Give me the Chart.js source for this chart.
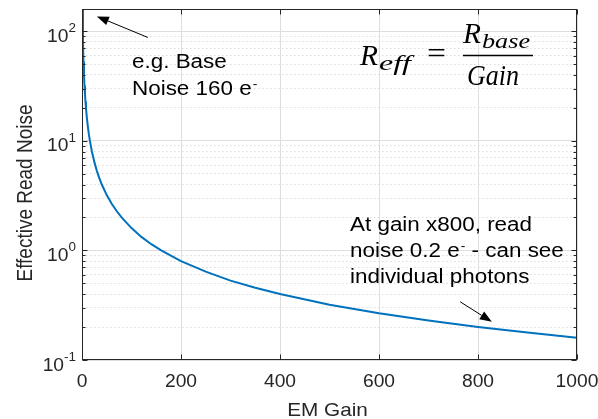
<!DOCTYPE html>
<html>
<head>
<meta charset="utf-8">
<title>Effective Read Noise vs EM Gain</title>
<script src="https://cdn.jsdelivr.net/npm/chart.js@4.4.0/dist/chart.umd.min.js"></script>
<style>
  html, body { margin: 0; padding: 0; background: #fff; }
  #wrap { width: 598px; height: 419px; }
</style>
</head>
<body>
<div id="wrap"><canvas id="chart" width="598" height="419"></canvas></div>
<script>
// EM gain and effective read noise (e-)
const gain = [1, 2, 3, 4, 5, 6, 7, 8, 10, 12, 14, 16, 20, 25, 30, 35, 40, 50, 60, 70, 80,
  100, 120, 140, 160, 200, 250, 300, 350, 400, 500, 600, 700, 800, 900, 1000];
const readNoise = [160, 80, 53, 40, 32, 26.7, 22.9, 20, 16, 13.3, 11.4, 10, 8, 6.4, 5.33, 4.57, 4,
  3.2, 2.67, 2.29, 2, 1.6, 1.33, 1.14, 1, 0.8, 0.64, 0.53, 0.457, 0.4, 0.32, 0.267, 0.229, 0.2,
  0.178, 0.16];

// Axis ticks
const xTickValues = [0, 200, 400, 600, 800, 1000];
const yDecades = [0.1, 1, 10, 100];
const yExponents = ['-1', '0', '1', '2'];

// Arrow end points in data units [fromGain, fromNoise, toGain, toNoise]
const arrowBase = [133, 88, 30, 137];
const arrowGain = [764, 0.34, 828, 0.223];

const SANS = '"Liberation Sans", Arial, Helvetica, sans-serif';
const SERIF = '"Liberation Serif", "Times New Roman", serif';
const AXIS_COLOR = '#262626';

function isDecade(v) {
    const l = Math.log10(v);
    return Math.abs(l - Math.round(l)) < 1e-6;
}

// Minor + major ticks for the log axis
function logTicks() {
    const out = [];
    for (let d = 0; d < yDecades.length - 1; d++) {
        for (let k = 1; k <= 9; k++) out.push({ value: yDecades[d] * k });
    }
    out.push({ value: yDecades[yDecades.length - 1] });
    return out;
}

// Text drawn with a horizontal stretch factor
function drawText(ctx, str, x, y, font, sx, align) {
    ctx.save();
    ctx.font = font;
    ctx.textAlign = 'left';
    ctx.textBaseline = 'alphabetic';
    const w = ctx.measureText(str).width * sx;
    let left = x;
    if (align === 'center') left = x - w / 2;
    if (align === 'right') left = x - w;
    ctx.translate(left, y);
    ctx.scale(sx, 1);
    ctx.fillText(str, 0, 0);
    ctx.restore();
    return w;
}

// Text squeezed/stretched to a given width
function drawFit(ctx, str, x, y, font, width) {
    ctx.save();
    ctx.font = font;
    const sx = width / ctx.measureText(str).width;
    ctx.restore();
    return drawText(ctx, str, x, y, font, sx, 'left');
}

function drawArrow(ctx, x1, y1, x2, y2) {
    const ang = Math.atan2(y2 - y1, x2 - x1);
    const headLen = 12, headW = 4.5;
    const bx = x2 - headLen * Math.cos(ang);
    const by = y2 - headLen * Math.sin(ang);
    ctx.beginPath();
    ctx.moveTo(x1, y1);
    ctx.lineTo(bx, by);
    ctx.stroke();
    ctx.beginPath();
    ctx.moveTo(x2, y2);
    ctx.lineTo(bx + headW * Math.sin(ang), by - headW * Math.cos(ang));
    ctx.lineTo(bx - headW * Math.sin(ang), by + headW * Math.cos(ang));
    ctx.closePath();
    ctx.fill();
}

const axesPlugin = {
    id: 'matlabAxes',
    afterDraw(chart) {
        const { ctx, chartArea, scales } = chart;
        const { left, right, top, bottom } = chartArea;
        const xs = scales.x, ys = scales.y;
        const L = Math.round(left) + 0.5, R = Math.round(right) - 0.5;
        const T = Math.round(top) + 0.5, B = Math.round(bottom) - 0.5;

        ctx.save();
        ctx.strokeStyle = AXIS_COLOR;
        ctx.lineWidth = 1;

        // Box
        ctx.strokeRect(L, T, R - L, B - T);

        // Inward tick marks
        ctx.beginPath();
        xTickValues.forEach(v => {
            const px = Math.round(xs.getPixelForValue(v)) + 0.5;
            ctx.moveTo(px, B); ctx.lineTo(px, B - 5);
            ctx.moveTo(px, T); ctx.lineTo(px, T + 5);
        });
        ys.ticks.forEach(t => {
            const py = Math.round(ys.getPixelForValue(t.value)) + 0.5;
            const len = isDecade(t.value) ? 5 : 3;
            ctx.moveTo(L, py); ctx.lineTo(L + len, py);
            ctx.moveTo(R, py); ctx.lineTo(R - len, py);
        });
        ctx.stroke();

        // Tick labels
        ctx.fillStyle = AXIS_COLOR;
        xTickValues.forEach(v => {
            drawText(ctx, String(v), xs.getPixelForValue(v), bottom + 27, '17.5px ' + SANS, 1.1, 'center');
        });
        yDecades.forEach((v, i) => {
            const py = ys.getPixelForValue(v);
            const w = drawText(ctx, yExponents[i], 76, py + 1, '12px ' + SANS, 1.12, 'right');
            drawText(ctx, '10', 76 - w, py + 10.5, '17.5px ' + SANS, 1.1, 'right');
        });

        // Axis titles
        drawText(ctx, 'EM Gain', (left + right) / 2 - 2, 416, '18.5px ' + SANS, 1.12, 'center');
        ctx.save();
        ctx.translate(32, 193);
        ctx.scale(1.12, 1);
        ctx.rotate(-Math.PI / 2);
        ctx.font = '19px ' + SANS;
        ctx.textAlign = 'center';
        ctx.fillText('Effective Read Noise', 0, 0);
        ctx.restore();

        // Annotations
        ctx.fillStyle = '#000';
        ctx.strokeStyle = '#000';
        const noteFont = '19.5px ' + SANS;
        const supFont = '12px ' + SANS;
        const sx = 1.15;
        drawText(ctx, 'e.g. Base', 132, 68, noteFont, sx);
        let w = drawText(ctx, 'Noise 160 e', 132, 95, noteFont, sx);
        drawText(ctx, '-', 132 + w + 1, 87.5, supFont, sx);

        drawText(ctx, 'At gain x800, read', 350, 231, noteFont, sx);
        w = drawText(ctx, 'noise 0.2 e', 350, 257, noteFont, sx);
        const w2 = drawText(ctx, '-', 350 + w + 1, 249.5, supFont, sx);
        drawText(ctx, ' - can see', 350 + w + w2 + 1, 257, noteFont, sx);
        drawText(ctx, 'individual photons', 350, 283, noteFont, sx);

        [arrowBase, arrowGain].forEach(a => {
            drawArrow(ctx,
                xs.getPixelForValue(a[0]), ys.getPixelForValue(a[1]),
                xs.getPixelForValue(a[2]), ys.getPixelForValue(a[3]));
        });

        // Equation R_eff = R_base / Gain
        const big = 'italic 30px ' + SERIF;
        const small = 'italic 21px ' + SERIF;
        drawFit(ctx, 'R', 360, 65, big, 18);
        drawFit(ctx, 'eff', 379, 70, small, 32);
        drawFit(ctx, '=', 427, 63, '30px ' + SERIF, 19);
        ctx.lineWidth = 1.6;
        ctx.beginPath();
        ctx.moveTo(463, 55.5);
        ctx.lineTo(533, 55.5);
        ctx.stroke();
        drawFit(ctx, 'R', 463, 43, big, 18);
        drawFit(ctx, 'base', 482, 48, small, 48);
        drawFit(ctx, 'Gain', 467, 85, big, 52);

        ctx.restore();
    }
};

new Chart(document.getElementById('chart'), {
    type: 'line',
    data: {
        datasets: [{
            label: 'Effective Read Noise',
            data: gain.map((g, i) => ({ x: g, y: readNoise[i] })),
            borderColor: '#0072BD',
            borderWidth: 2,
            pointRadius: 0,
            tension: 0,
            fill: false
        }]
    },
    options: {
        responsive: false,
        animation: false,
        layout: { padding: { left: 82, right: 21, top: 9, bottom: 59 } },
        plugins: {
            legend: { display: false },
            tooltip: { enabled: false }
        },
        scales: {
            x: {
                type: 'linear',
                min: 0,
                max: 1000,
                afterBuildTicks: s => { s.ticks = xTickValues.map(v => ({ value: v })); },
                afterFit: s => { s.height = 0; },
                ticks: { display: false },
                grid: { color: '#dedede', drawTicks: false },
                border: { display: false }
            },
            y: {
                type: 'logarithmic',
                min: 0.1,
                max: 160,
                afterBuildTicks: s => { s.ticks = logTicks(); },
                afterFit: s => { s.width = 0; },
                ticks: { display: false },
                grid: {
                    drawTicks: false,
                    color: c => (c.tick && isDecade(c.tick.value)) ? '#dedede' : '#dcdcdc'
                },
                border: {
                    display: false,
                    dash: c => (c.tick && !isDecade(c.tick.value)) ? [1.5, 2.5] : []
                }
            }
        }
    },
    plugins: [axesPlugin]
});
</script>
</body>
</html>
